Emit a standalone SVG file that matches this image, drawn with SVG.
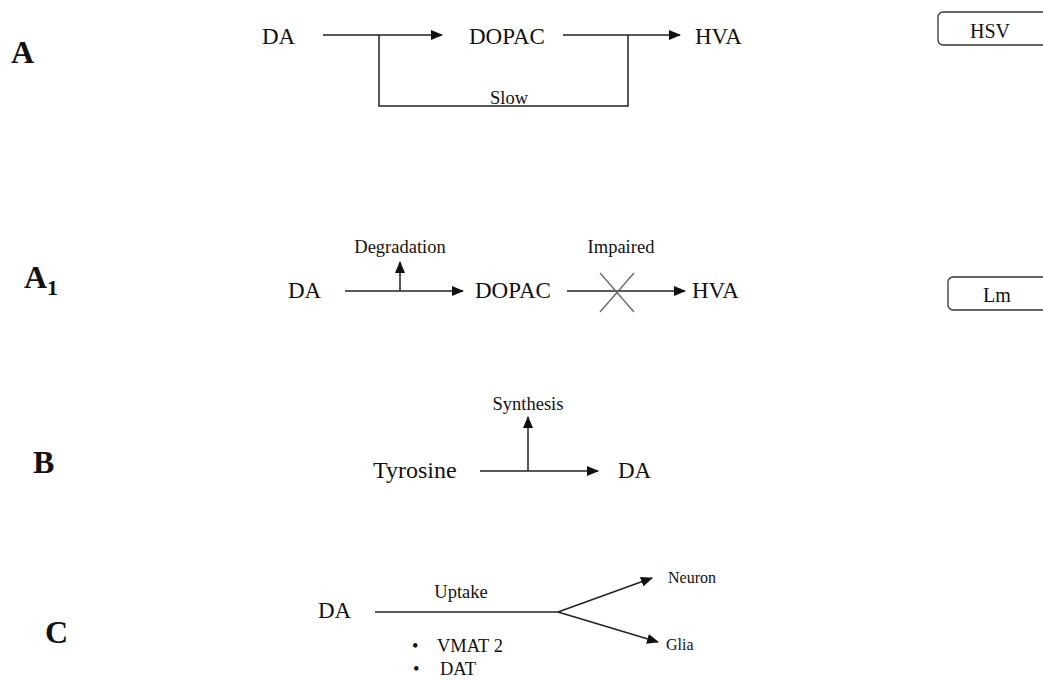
<svg xmlns="http://www.w3.org/2000/svg" width="1043" height="680" viewBox="0 0 1043 680">
<defs>
<marker id="ah" markerUnits="userSpaceOnUse" markerWidth="12" markerHeight="10" refX="11" refY="5" orient="auto">
<path d="M0,0 L12,5 L0,10 Z" fill="#111"/>
</marker>
<style>
text{font-family:"Liberation Serif","Times New Roman",serif;fill:#111}
.m{font-size:23px}
.t{font-size:24px}
.s{font-size:18.5px}
.n{font-size:16px}
.b{font-size:20px}
.lbl{font-size:32px;font-weight:bold}
.ln{stroke:#222;stroke-width:1.5;fill:none}
.arr{stroke:#222;stroke-width:1.5;fill:none;marker-end:url(#ah)}
.box{fill:#fff;stroke:#333;stroke-width:1.3}
</style>
</defs>
<rect width="1043" height="680" fill="#fff"/>

<g id="labels">
<text class="lbl" x="11" y="63">A</text>
<text class="lbl" x="24" y="288">A<tspan font-size="22" dy="7">1</tspan></text>
<text class="lbl" x="33" y="473">B</text>
<text class="lbl" x="45" y="643">C</text>
</g>

<g id="nodeA_DA"><text class="m" x="262" y="44">DA</text></g>
<g id="nodeA_DOPAC"><text class="m" x="469" y="44">DOPAC</text></g>
<g id="nodeA_HVA"><text class="m" x="695" y="44">HVA</text></g>
<g id="nodeHSV"><rect class="box" x="938" y="12" width="110" height="33" rx="5"/><text class="b" x="990" y="38" text-anchor="middle">HSV</text></g>

<g id="nodeA1_DA"><text class="m" x="288" y="298">DA</text></g>
<g id="nodeA1_DOPAC"><text class="m" x="475" y="298">DOPAC</text></g>
<g id="nodeA1_HVA"><text class="m" x="692" y="298">HVA</text></g>
<g id="nodeLm"><rect class="box" x="948" y="277" width="100" height="33" rx="5"/><text class="b" x="997" y="302" text-anchor="middle">Lm</text></g>

<g id="nodeB_Tyr"><text class="t" x="373" y="478">Tyrosine</text></g>
<g id="nodeB_DA"><text class="m" x="618" y="478">DA</text></g>

<g id="nodeC_DA"><text class="m" x="318" y="618">DA</text></g>
<g id="nodeC_Neuron"><text class="n" x="668" y="583">Neuron</text></g>
<g id="nodeC_Glia"><text class="n" x="666" y="650">Glia</text></g>
<g id="nodeC_list">
<text class="s" x="412" y="652">•</text><text class="s" x="437" y="652">VMAT 2</text>
<text class="s" x="413" y="675">•</text><text class="s" x="440" y="675">DAT</text>
</g>

<g id="connectors">
<line class="arr" x1="323" y1="35" x2="442" y2="35"/>
<line class="arr" x1="563" y1="35" x2="680" y2="35"/>
<polyline class="ln" points="379,35 379,106 628,106 628,35"/>
<text class="s" x="509" y="104" text-anchor="middle">Slow</text>

<line class="arr" x1="345" y1="291" x2="463" y2="291"/>
<line class="arr" x1="400" y1="291" x2="400" y2="262"/>
<text class="s" x="400" y="253" text-anchor="middle">Degradation</text>
<line class="arr" x1="567" y1="291" x2="685" y2="291"/>
<line x1="600" y1="273" x2="634" y2="312" stroke="#666" stroke-width="1.3"/>
<line x1="634" y1="273" x2="600" y2="312" stroke="#666" stroke-width="1.3"/>
<text class="s" x="621" y="253" text-anchor="middle">Impaired</text>

<line class="arr" x1="480" y1="471" x2="598" y2="471"/>
<line class="arr" x1="528" y1="471" x2="528" y2="417"/>
<text class="s" x="528" y="410" text-anchor="middle">Synthesis</text>

<line class="ln" x1="375" y1="612" x2="558" y2="612"/>
<line class="arr" x1="558" y1="612" x2="652" y2="578"/>
<line class="arr" x1="558" y1="612" x2="658" y2="642"/>
<text class="s" x="461" y="598" text-anchor="middle">Uptake</text>
</g>
</svg>
